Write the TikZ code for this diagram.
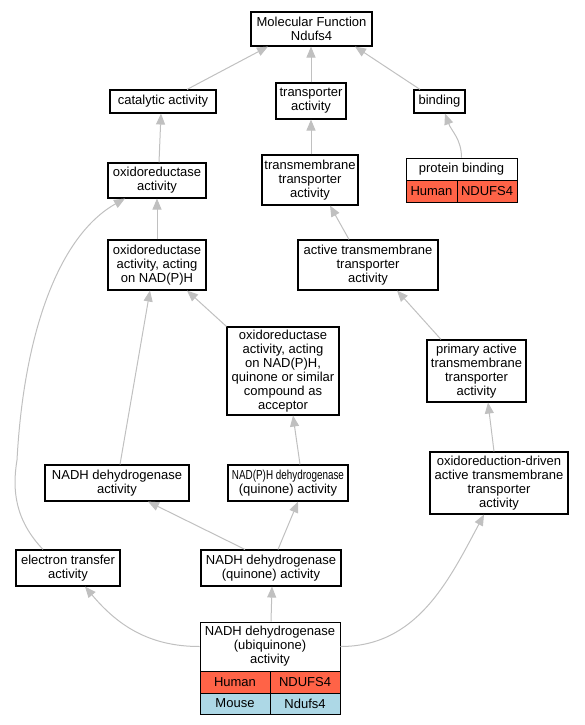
\documentclass[tikz,border=0pt]{standalone}
\usepackage{fontspec}
\setmainfont{Liberation Sans}
\usetikzlibrary{arrows.meta}
\definecolor{edgegray}{RGB}{192,192,192}
\definecolor{humanred}{RGB}{255,99,71}
\definecolor{mouseblue}{RGB}{173,216,230}
\begin{document}
\begin{tikzpicture}[x=1pt,y=-1pt,
  gobox/.style={draw=black, line width=1.1pt, inner sep=0pt, align=center,
    font=\fontsize{13}{14}\selectfont},
  cell/.style={draw=black, line width=0.9pt, inner sep=0pt, align=center,
    font=\fontsize{13}{14}\selectfont},
  conn/.style={draw=edgegray, line width=1pt, -{Triangle[length=11pt,width=9pt]}, color=edgegray}
]
\useasboundingbox (0,0) rectangle (584,725);

\node[gobox, minimum width=121pt, minimum height=34pt] (mf) at (311.5,29) {Molecular Function\\Ndufs4};
\node[gobox, minimum width=106pt, minimum height=23pt] (cat) at (163,101.5) {catalytic activity};
\node[gobox, minimum width=70pt, minimum height=36pt] (trans) at (311,101) {transporter\\activity};
\node[gobox, minimum width=51pt, minimum height=23pt] (bind) at (439.5,101.5) {binding};

\node[cell, minimum width=111pt, minimum height=22pt] (pbt) at (461.5,169) {protein binding};
\node[cell, fill=humanred, minimum width=51pt, minimum height=22pt] (pbh1) at (431.5,191) {Human};
\node[cell, fill=humanred, minimum width=60pt, minimum height=22pt] (pbh2) at (487,191) {NDUFS4};

\node[gobox, minimum width=98pt, minimum height=35pt] (oxr) at (157,180.5) {oxidoreductase\\activity};
\node[gobox, minimum width=96pt, minimum height=50pt] (tmt) at (310,180) {transmembrane\\transporter\\activity};
\node[gobox, minimum width=98pt, minimum height=50pt] (nadph) at (157,265) {oxidoreductase\\activity, acting\\on NAD(P)H};
\node[gobox, minimum width=140pt, minimum height=50pt] (atmt) at (368,265) {active transmembrane\\transporter\\activity};
\node[gobox, minimum width=112pt, minimum height=88pt] (quin) at (283,371) {oxidoreductase\\activity, acting\\on NAD(P)H,\\quinone or similar\\compound as\\acceptor};
\node[gobox, minimum width=99pt, minimum height=62pt] (prim) at (476.5,371) {primary active\\transmembrane\\transporter\\activity};
\node[gobox, minimum width=144pt, minimum height=36pt] (nadhact) at (117,483) {NADH dehydrogenase\\activity};
\node[gobox, minimum width=120pt, minimum height=36pt] (nadphq) at (288,483) {\scalebox{0.76}[1]{NAD(P)H dehydrogenase}\\(quinone) activity};
\node[gobox, minimum width=138pt, minimum height=62pt] (oxd) at (499,483) {oxidoreduction-driven\\active transmembrane\\transporter\\activity};
\node[gobox, minimum width=104pt, minimum height=36pt] (etr) at (68,568) {electron transfer\\activity};
\node[gobox, minimum width=140pt, minimum height=36pt] (nadhq) at (271,568) {NADH dehydrogenase\\(quinone) activity};

\node[cell, minimum width=140pt, minimum height=49pt] (ubi) at (270,646.5) {NADH dehydrogenase\\(ubiquinone)\\activity};
\node[cell, fill=humanred, minimum width=70pt, minimum height=22pt] (ubh1) at (235,682) {Human};
\node[cell, fill=humanred, minimum width=70pt, minimum height=22pt] (ubh2) at (305,682) {NDUFS4};
\node[cell, fill=mouseblue, minimum width=70pt, minimum height=21pt] (ubm1) at (235,703.5) {Mouse};
\node[cell, fill=mouseblue, minimum width=70pt, minimum height=21pt] (ubm2) at (305,703.5) {Ndufs4};

% connectors
\draw[conn] ([xshift=24pt]cat.north) -- ([xshift=-43.5pt]mf.south);
\draw[conn] (trans.north) -- (trans.north |- mf.south);
\draw[conn] ([xshift=-19.5pt]bind.north) -- ([xshift=43.5pt]mf.south);
\draw[conn] (pbt.north) to[out=90, in=-70] ([xshift=5.5pt]bind.south);
\draw[conn] ([xshift=2pt]oxr.north) -- ([xshift=-2pt]cat.south);
\draw[conn] ([xshift=1pt]tmt.north) -- (trans.south);
\draw[conn] ([xshift=-19pt]atmt.north) -- ([xshift=20pt]tmt.south);
\draw[conn] (nadph.north) -- (oxr.south);
\draw[conn] (quin.north west) -- ([xshift=30pt]nadph.south);
\draw[conn] ([xshift=-35.5pt]prim.north) -- ([xshift=29pt]atmt.south);
\draw[conn] ([xshift=3pt]nadhact.north) -- ([xshift=-7pt]nadph.south);
\draw[conn] ([xshift=12pt]nadphq.north) -- ([xshift=10pt]quin.south);
\draw[conn] ([xshift=-5pt]oxd.north) -- ([xshift=11.5pt]prim.south);
\draw[conn] ([xshift=-25pt]etr.north) .. controls (15,520) and (12,490) .. (17,460)
  .. controls (24,330) and (60,235) .. ([xshift=-32pt]oxr.south);
\draw[conn] ([xshift=-26pt]nadhq.north) -- ([xshift=31pt]nadhact.south);
\draw[conn] ([xshift=7pt]nadhq.north) -- ([xshift=10pt]nadphq.south);
\draw[conn] ([xshift=1pt]ubi.north) -- ([xshift=1pt]nadhq.south);
\draw[conn] (ubi.west) to[out=180, in=-50] ([xshift=17pt]etr.south);
\draw[conn] (ubi.east) to[out=0, in=-118] ([xshift=-15pt]oxd.south);
\end{tikzpicture}
\end{document}
